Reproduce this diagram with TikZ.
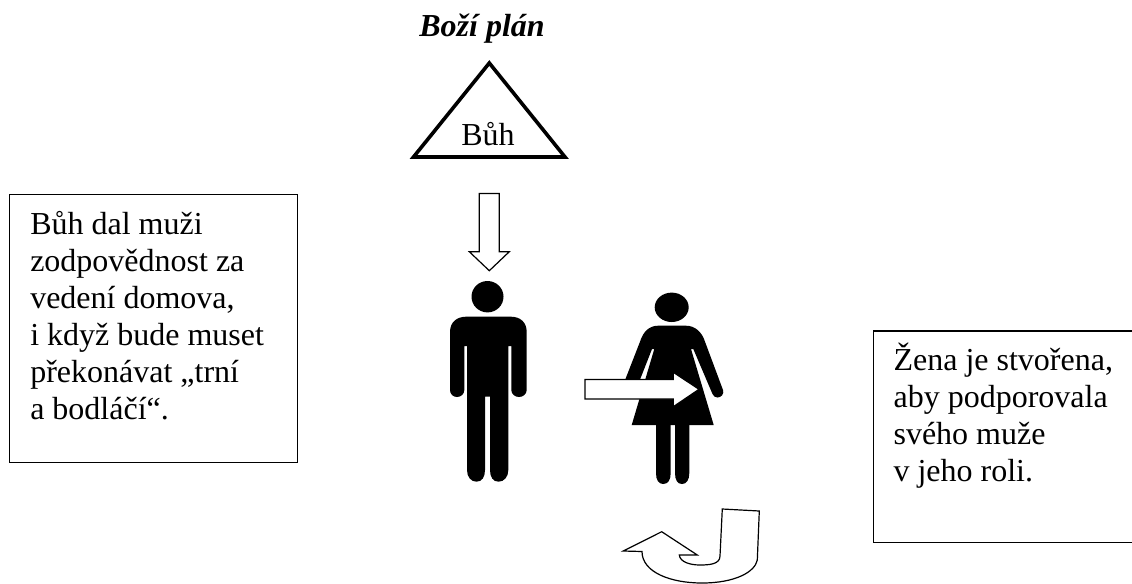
\documentclass[tikz,border=0pt]{standalone}
\usepackage{fontspec}
\setmainfont{Liberation Serif}
\usetikzlibrary{positioning}
\tikzset{notebox/.style={draw, line width=1pt, anchor=north west, inner sep=0pt}}
\tikzset{notetext/.style={anchor=north west, inner sep=0pt, align=left, font=\fontsize{24}{27.75}\selectfont}}
\tikzset{blockarrow/.style={draw=black, fill=white, line width=0.9pt, line join=miter}}
\tikzset{figure/.style={fill=black, draw=none}}

\begin{document}
\begin{tikzpicture}[x=0.75pt, y=-0.75pt]
  \useasboundingbox (0,0) rectangle (1132,583);

  % Title and triangle
  \node (title) [anchor=base, inner sep=0pt, font=\fontsize{24}{27}\selectfont\bfseries\itshape] at (482,36) {Boží plán};
  \coordinate (apex) at (489.3,63);
  \coordinate (baseL) at (413.5,157);
  \coordinate (baseR) at (565,157);
  \draw[line width=2.7pt, miter limit=10] (apex) -- (baseL) -- (baseR) -- cycle;
  \node (god) [anchor=base, inner sep=0pt, font=\fontsize{24}{27}\selectfont] at (488,145.5) {Bůh};

  % Arrow from triangle down to man
  \draw[blockarrow] (479.3,193.5) -- (499.3,193.5) -- (499.3,251.7) -- (509.3,251.7) -- (489.3,270.7)
    -- (469.3,251.7) -- (479.3,251.7) -- cycle;

  % Man
  \fill[figure] (487.5,296.7) ellipse (16 and 15.7);
  \fill[figure] (450,332) .. controls (450,322) and (457,316.7) .. (466,316.7) -- (511,316.7)
    .. controls (520,316.7) and (526.7,322) .. (526.7,332) -- (526.7,390)
    .. controls (526.7,394) and (523,397) .. (519,397) .. controls (515,397) and (511.3,394) .. (511.3,390)
    -- (511.3,346) -- (508.3,346) -- (508.3,470)
    .. controls (508.3,477) and (504,481.7) .. (498.5,481.7) .. controls (493,481.7) and (490,477) .. (490,470)
    -- (490,396.7) -- (485,396.7) -- (485,470)
    .. controls (485,477) and (482,481.7) .. (476.5,481.7) .. controls (471,481.7) and (467,477) .. (467,470)
    -- (467,346) -- (464.3,346) -- (464.3,390)
    .. controls (464.3,394) and (461,397) .. (457,397) .. controls (453,397) and (450,394) .. (450,390) -- cycle;

  % Woman
  \fill[figure] (671.7,307.3) ellipse (17 and 14.7);
  \fill[figure] (658,325.7) -- (686,325.7) .. controls (695,325.7) and (702,332) .. (705,341.7)
    -- (723,390) .. controls (724.5,394) and (721,397.5) .. (717.5,397.5) .. controls (715,397.5) and (713.5,396) .. (712.5,394)
    -- (693.3,349) -- (691,349) -- (713.7,425) -- (631.7,425) -- (654.3,349) -- (652,349) -- (633.3,396.7)
    -- (620,393) -- (640,341.7) .. controls (643,332) and (649,325.7) .. (658,325.7) -- cycle;
  \fill[figure] (656,425) -- (670.7,425) -- (670.7,473) .. controls (670.7,480) and (668,484) .. (663.3,484)
    .. controls (658.5,484) and (656,480) .. (656,473) -- cycle;
  \fill[figure] (675,425) -- (689.3,425) -- (689.3,473) .. controls (689.3,480) and (686.5,484) .. (682,484)
    .. controls (677.5,484) and (675,480) .. (675,473) -- cycle;

  % Arrow from man to woman
  \draw[blockarrow] (585,379.5) -- (673.3,379.5) -- (673.3,372.3) -- (699,389.3) -- (673.3,406.7)
    -- (673.3,399) -- (585,399) -- cycle;

  % Curved arrow below woman
  \draw[blockarrow] (722.3,509) -- (759.3,511) -- (757.3,560)
    .. controls (755,572) and (735,583) .. (702,583)
    .. controls (670,583) and (642,572) .. (642,551.5)
    -- (623.3,551) -- (661.7,531.7) -- (697.3,555) -- (679.3,555)
    .. controls (680,562) and (690,565) .. (700,565)
    .. controls (710,565) and (720,564) .. (720,556) -- cycle;

  % Note boxes
  \node (manbox) [notebox, minimum width=216pt, minimum height=201pt] at (9,194) {};
  \node (mannote) [notetext] at (30,211) {Bůh dal muži\\zodpovědnost za\\vedení domova,\\i když bude muset\\překonávat „trní\\a bodláčí“.};
  \node (womannote) [notetext] at (893.3,343) {Žena je stvořena,\\aby podporovala\\svého muže\\v jeho roli.};
  \draw[line width=1pt] (1132,331) -- (873.3,331) -- (873.3,542.3) -- (1132,542.3);
\end{tikzpicture}
\end{document}
